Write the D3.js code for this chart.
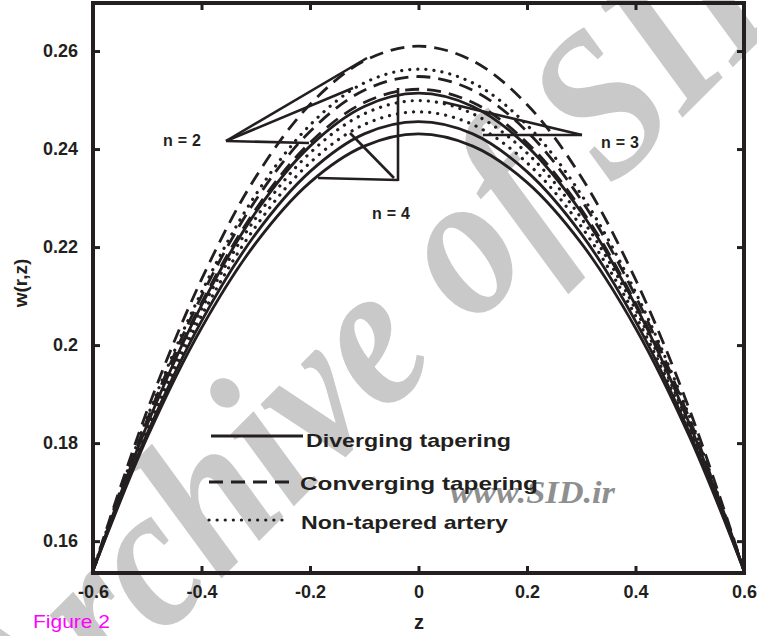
<!DOCTYPE html>
<html>
<head>
<meta charset="utf-8">
<script src="https://cdn.jsdelivr.net/npm/d3@7"></script>
<style>
  html, body { margin: 0; padding: 0; background: #fff; }
  svg { display: block; }
</style>
</head>
<body>
<svg id="chart" width="757" height="636"></svg>
<script>
// Axial velocity w(r,z) against z for three artery geometries and n = 2, 3, 4
const zValues = [-0.6, -0.5, -0.4, -0.3, -0.2, -0.1, 0, 0.1, 0.2, 0.3, 0.4, 0.5, 0.6];

// converging tapering (dashed)
const convergingA = [0.1540, 0.1867, 0.2134, 0.2343, 0.2491, 0.2580, 0.2610, 0.2580, 0.2491, 0.2343, 0.2134, 0.1867, 0.1540];
const convergingB = [0.1540, 0.1848, 0.2100, 0.2296, 0.2436, 0.2520, 0.2548, 0.2520, 0.2436, 0.2296, 0.2100, 0.1848, 0.1540];
const convergingC = [0.1540, 0.1840, 0.2086, 0.2277, 0.2413, 0.2495, 0.2522, 0.2495, 0.2413, 0.2277, 0.2086, 0.1840, 0.1540];
// non-tapered artery (dotted)
const nonTaperedA = [0.1540, 0.1853, 0.2108, 0.2307, 0.2449, 0.2535, 0.2563, 0.2535, 0.2449, 0.2307, 0.2108, 0.1853, 0.1540];
const nonTaperedB = [0.1540, 0.1833, 0.2073, 0.2259, 0.2392, 0.2472, 0.2499, 0.2472, 0.2392, 0.2259, 0.2073, 0.1833, 0.1540];
const nonTaperedC = [0.1540, 0.1826, 0.2060, 0.2242, 0.2372, 0.2450, 0.2476, 0.2450, 0.2372, 0.2242, 0.2060, 0.1826, 0.1540];
// diverging tapering (solid)
const divergingA = [0.1540, 0.1838, 0.2081, 0.2271, 0.2406, 0.2487, 0.2514, 0.2487, 0.2406, 0.2271, 0.2081, 0.1838, 0.1540];
const divergingB = [0.1540, 0.1820, 0.2049, 0.2227, 0.2354, 0.2431, 0.2456, 0.2431, 0.2354, 0.2227, 0.2049, 0.1820, 0.1540];
const divergingC = [0.1540, 0.1812, 0.2035, 0.2208, 0.2332, 0.2406, 0.2431, 0.2406, 0.2332, 0.2208, 0.2035, 0.1812, 0.1540];

const xTicks = [-0.6, -0.4, -0.2, 0, 0.2, 0.4, 0.6];
const xTickLabels = ["-0.6", "-0.4", "-0.2", "0", "0.2", "0.4", "0.6"];
const yTicks = [0.16, 0.18, 0.2, 0.22, 0.24, 0.26];
const yTickLabels = ["0.16", "0.18", "0.2", "0.22", "0.24", "0.26"];

const legendLabels = ["Diverging tapering", "Converging tapering", "Non-tapered artery"];

const INK = "#231f20";
const SANS = "Liberation Sans, Arial, Helvetica, sans-serif";
const svg = d3.select("#chart");

const x = d3.scaleLinear().domain([-0.6, 0.6]).range([93, 744]);
const y = d3.scaleLinear().domain([0.1535, 0.2698]).range([573, 3]);

// background watermark
svg.append("text")
  .attr("transform", "translate(26,774) rotate(-45) scale(0.875,1)")
  .attr("font-family", "Liberation Serif, serif")
  .attr("font-style", "italic")
  .attr("font-weight", "bold")
  .attr("font-size", 208)
  .attr("fill", "#c9c9c9")
  .text("Archive of SID");

svg.append("text")
  .attr("x", 450).attr("y", 503)
  .attr("font-family", "Liberation Serif, serif")
  .attr("font-style", "italic")
  .attr("font-weight", "bold")
  .attr("font-size", 31)
  .attr("textLength", 165)
  .attr("lengthAdjust", "spacingAndGlyphs")
  .attr("fill", "#8f8f8f")
  .text("www.SID.ir");

const styles = {
  solid: null,
  dashed: "14 8",
  dotted: "0.1 8"
};

const series = [
  { values: convergingA, style: "dashed" },
  { values: convergingB, style: "dashed" },
  { values: convergingC, style: "dashed" },
  { values: nonTaperedA, style: "dotted" },
  { values: nonTaperedB, style: "dotted" },
  { values: nonTaperedC, style: "dotted" },
  { values: divergingA, style: "solid" },
  { values: divergingB, style: "solid" },
  { values: divergingC, style: "solid" }
];

const line = d3.line()
  .x((d, i) => x(zValues[i]))
  .y(d => y(d))
  .curve(d3.curveCatmullRom.alpha(0.5));

const curves = svg.append("g");
series.forEach(s => {
  curves.append("path")
    .attr("d", line(s.values))
    .attr("fill", "none")
    .attr("stroke", INK)
    .attr("stroke-width", s.style === "dotted" ? 3.2 : 2.8)
    .attr("stroke-linecap", s.style === "dotted" ? "round" : "butt")
    .attr("stroke-dasharray", styles[s.style]);
});

// n labels with their pointer lines
const pointers = svg.append("g")
  .attr("stroke", INK).attr("stroke-width", 2.6).attr("fill", "none");
const pointerSegments = [
  [[226, 141], [367, 58]], [[226, 141], [353, 88]], [[226, 141], [309, 143]],
  [[582, 135], [443, 102]], [[582, 135], [483, 135]],
  [[398, 181], [398, 88]], [[398, 180], [318, 178]], [[394, 178], [350, 133]]
];
pointerSegments.forEach(p => {
  pointers.append("line")
    .attr("x1", p[0][0]).attr("y1", p[0][1])
    .attr("x2", p[1][0]).attr("y2", p[1][1]);
});

const nLabels = [
  { t: "n=2", x: 163, y: 146 },
  { t: "n=3", x: 601, y: 148 },
  { t: "n=4", x: 372, y: 219 }
];
svg.append("g").selectAll("text").data(nLabels).join("text")
  .attr("x", d => d.x).attr("y", d => d.y)
  .attr("font-family", SANS)
  .attr("font-weight", "bold")
  .attr("font-size", 16)
  .attr("textLength", 38)
  .attr("lengthAdjust", "spacing")
  .attr("fill", INK)
  .text(d => d.t);

// axes frame with inward ticks on all sides
const axisG = svg.append("g");
const axBottom = axisG.append("g").attr("transform", `translate(0,${573})`)
  .call(d3.axisBottom(x).tickValues(xTicks).tickSize(-7).tickFormat((d, i) => xTickLabels[i]).tickPadding(12));
const axTop = axisG.append("g").attr("transform", `translate(0,${3})`)
  .call(d3.axisTop(x).tickValues(xTicks).tickSize(-7).tickFormat(""));
const axLeft = axisG.append("g").attr("transform", `translate(${93},0)`)
  .call(d3.axisLeft(y).tickValues(yTicks).tickSize(-7).tickFormat((d, i) => yTickLabels[i]).tickPadding(15));
const axRight = axisG.append("g").attr("transform", `translate(${744},0)`)
  .call(d3.axisRight(y).tickValues(yTicks).tickSize(-7).tickFormat(""));

[axBottom, axTop, axLeft, axRight].forEach(g => {
  g.select(".domain").remove();
  g.selectAll(".tick line").attr("stroke", INK).attr("stroke-width", 3);
  g.selectAll(".tick text")
    .attr("fill", INK)
    .attr("font-family", SANS)
    .attr("font-weight", "bold")
    .attr("font-size", 18);
});

axisG.append("rect")
  .attr("x", 93).attr("y", 3)
  .attr("width", 744 - 93).attr("height", 573 - 3)
  .attr("fill", "none").attr("stroke", INK).attr("stroke-width", 4);

// axis titles
svg.append("text")
  .attr("x", 419).attr("y", 629)
  .attr("text-anchor", "middle")
  .attr("font-family", SANS)
  .attr("font-weight", "bold").attr("font-size", 20)
  .attr("fill", INK)
  .text("z");

svg.append("text")
  .attr("transform", "translate(27,283) rotate(-90)")
  .attr("text-anchor", "middle")
  .attr("font-family", SANS)
  .attr("font-weight", "bold").attr("font-size", 19)
  .attr("fill", INK)
  .text("w(r,z)");

// legend
const legend = svg.append("g");
const legendRows = [
  { style: "solid", x1: 211, x2: 303, y: 436, tx: 306, ty: 447, w: 205 },
  { style: "dashed", x1: 209, x2: 296, y: 482, tx: 300, ty: 490, w: 238 },
  { style: "dotted", x1: 209, x2: 288, y: 520, tx: 301, ty: 529, w: 207 }
];
legendRows.forEach((r, i) => {
  legend.append("line")
    .attr("x1", r.x1).attr("x2", r.x2).attr("y1", r.y).attr("y2", r.y)
    .attr("stroke", INK)
    .attr("stroke-width", r.style === "dotted" ? 3.2 : 2.8)
    .attr("stroke-linecap", r.style === "dotted" ? "round" : "butt")
    .attr("stroke-dasharray", styles[r.style]);
  legend.append("text")
    .attr("x", r.tx).attr("y", r.ty)
    .attr("font-family", SANS)
    .attr("font-weight", "bold").attr("font-size", 19)
    .attr("textLength", r.w)
    .attr("lengthAdjust", "spacingAndGlyphs")
    .attr("fill", INK)
    .text(legendLabels[i]);
});

svg.append("text")
  .attr("x", 33).attr("y", 628)
  .attr("font-family", SANS)
  .attr("font-size", 19)
  .attr("textLength", 77)
  .attr("lengthAdjust", "spacingAndGlyphs")
  .attr("fill", "#ff00ff")
  .text("Figure 2");
</script>
</body>
</html>
